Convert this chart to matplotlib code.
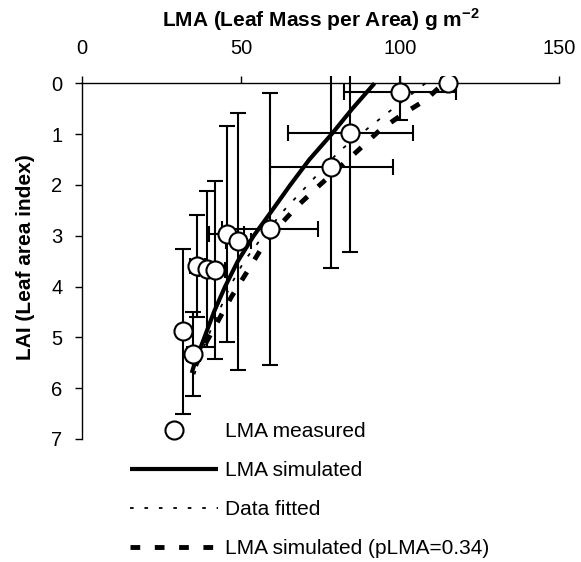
import matplotlib
matplotlib.use('Agg')
import matplotlib.pyplot as plt

plt.rcParams['font.family'] = ['Liberation Sans', 'DejaVu Sans']
plt.rcParams['mathtext.fontset'] = 'custom'
plt.rcParams['mathtext.rm'] = 'Liberation Sans'
plt.rcParams['mathtext.bf'] = 'Liberation Sans:bold'

# ---- 数据 ----
# 测量值 (LMA, LAI) 及误差
lma_meas = [115, 100, 84.4, 78.4, 59.1, 45.5, 49.2, 36.3, 39.2, 41.9, 31.9, 35.0]
lai_meas = [0.0, 0.18, 0.97, 1.64, 2.87, 2.97, 3.11, 3.60, 3.65, 3.68, 4.88, 5.33]
lma_err = [0, 17.6, 19.6, 19.3, 15.0, 5.5, 4.0, 2.3, 2.5, 3.0, 0, 2.0]
lai_err = [0.1, 0.55, 2.34, 2.0, 2.67, 2.13, 2.53, 1.0, 1.53, 1.75, 1.62, 0.82]

# 模拟曲线
sim_lai = [0, 0.5, 1.0, 1.5, 2.0, 2.5, 3.0, 3.5, 4.0, 4.5, 5.0, 5.5, 5.7]
sim_lma = [92, 85, 78.5, 71.5, 65.5, 59.8, 54, 49, 45, 41.5, 38.5, 35.5, 34.5]

# 拟合曲线
fit_lai = [0, 0.85, 1.33, 1.9, 2.5, 3.0, 3.5, 4.0, 4.5, 5.0, 5.5, 5.8]
fit_lma = [108, 90.6, 81, 72.5, 63.5, 57, 51, 46.5, 43, 39.5, 36.5, 35]

# pLMA=0.34 模拟
p_lai = [0.1, 0.33, 0.6, 0.92, 1.31, 1.65, 2.0, 2.4, 2.75, 3.14, 3.67, 4.2, 4.72, 5.14, 5.73]
p_lma = [112, 108, 101, 93.7, 87, 81, 74.8, 68, 62.8, 57.5, 52.3, 47, 42.4, 38.7, 34.5]

x_ticks = [0, 50, 100, 150]
y_ticks = [0, 1, 2, 3, 4, 5, 6, 7]

W, H = 581, 562
fig = plt.figure(figsize=(W / 100, H / 100), dpi=100)
ax = fig.add_axes([82 / W, (H - 439) / H, (559 - 82) / W, (439 - 75.7) / H])

# 误差线
ax.errorbar(lma_meas, lai_meas, xerr=lma_err, yerr=lai_err, fmt='none',
            ecolor='black', elinewidth=1.5, capsize=6, capthick=1.5, zorder=2)

# 曲线
ax.plot(sim_lma, sim_lai, color='black', lw=3, solid_capstyle='butt', zorder=3,
        label='LMA simulated')
ax.plot(fit_lma, fit_lai, color='black', lw=1.3, dashes=(2, 6), zorder=3,
        label='Data fitted')
ax.plot(p_lma, p_lai, color='black', lw=3.5, dashes=(2, 3), zorder=3,
        label='LMA simulated (pLMA=0.34)')

# 测量点
ax.plot(lma_meas, lai_meas, 'o', ms=13, mfc='white', mec='black', mew=1.5,
        zorder=5, label='LMA measured')

ax.set_xlim(0, 150)
ax.set_ylim(7, -0.15)

ax.spines['right'].set_visible(False)
ax.spines['bottom'].set_visible(False)
ax.spines['top'].set_position(('data', 0))
ax.spines['left'].set_bounds(0, 7)
for s in ['top', 'left']:
    ax.spines[s].set_linewidth(1.0)

ax.xaxis.tick_top()
ax.xaxis.set_label_position('top')
ax.set_xticks(x_ticks)
ax.set_yticks(y_ticks)
ax.tick_params(axis='x', direction='out', length=5, width=1, labelsize=14.5, pad=13)
ax.tick_params(axis='y', direction='out', length=5, width=1, labelsize=14.5, pad=9)

ax.set_xlabel('LMA (Leaf Mass per Area) g m$^{\\mathbf{-2}}$', fontsize=15,
              fontweight='bold', labelpad=9)
ax.set_ylabel('LAI (Leaf area index)', fontsize=15, fontweight='bold', labelpad=12)

# ---- 图例 ----
handles, labels = ax.get_legend_handles_labels()
order = [3, 0, 1, 2]
fig.legend([handles[i] for i in order], [labels[i] for i in order],
           loc='upper left', bbox_to_anchor=(130 / W, 1 - 422 / H),
           frameon=False, fontsize=15, handlelength=4.2, handletextpad=0.35,
           labelspacing=0.96, borderpad=0, borderaxespad=0)

fig.savefig('out.png', dpi=100, facecolor='white')
